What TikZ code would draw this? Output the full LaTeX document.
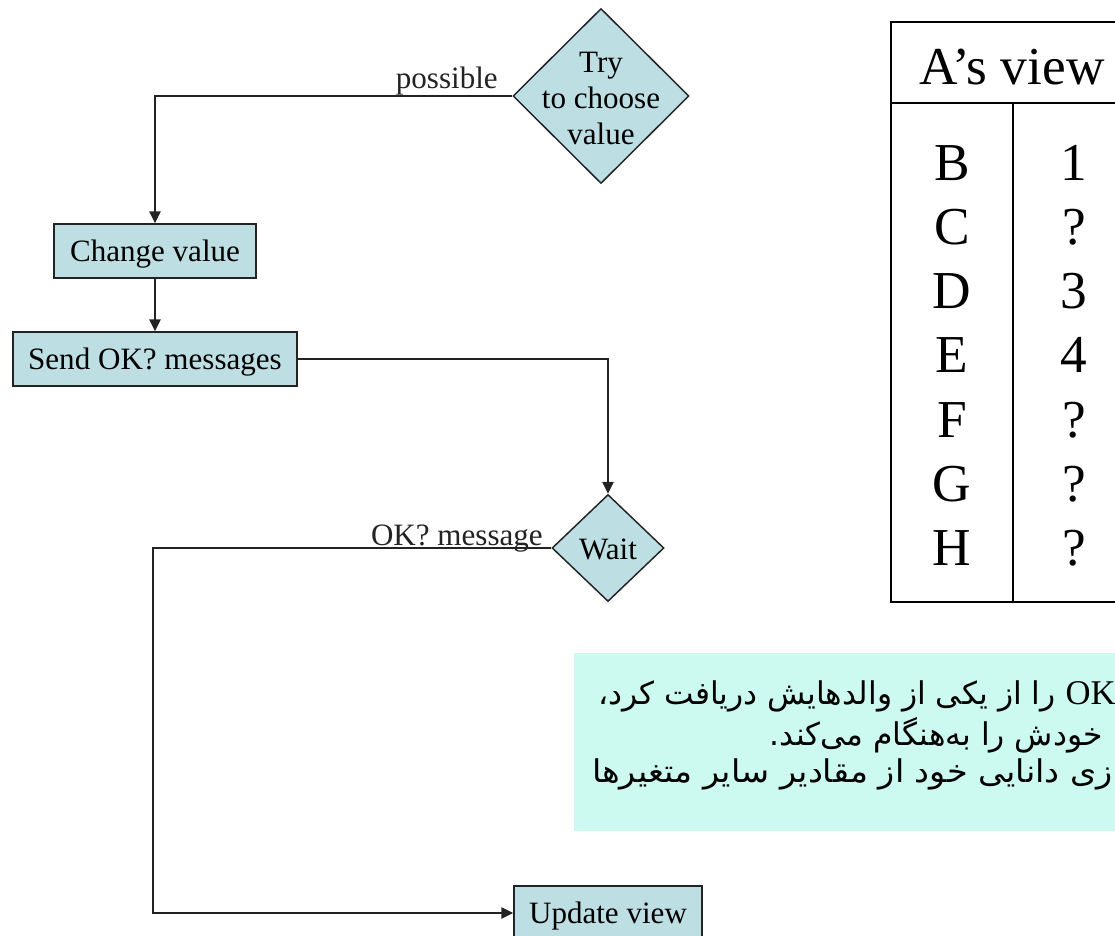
\documentclass[tikz,border=0pt]{standalone}
\usepackage{fontspec}
\setmainfont{Liberation Serif}
\newfontfamily\arabicfont[Script=Arabic]{DejaVu Sans}
\TeXXeTstate=1
\usetikzlibrary{shapes.geometric,arrows.meta}
\definecolor{boxfill}{RGB}{189,223,227}
\definecolor{notefill}{RGB}{205,250,240}
\definecolor{ink}{RGB}{35,35,35}

\begin{document}
\begin{tikzpicture}[x=0.75pt,y=-0.75pt,
  flowtext/.style={font=\fontsize{23.3}{27}\selectfont},
  procbox/.style={draw=ink, line width=1.1pt, fill=boxfill, flowtext, inner sep=0pt, text depth=0pt, minimum height=40.5pt},
  decision/.style={diamond, draw=ink, line width=1.1pt, fill=boxfill, inner sep=0pt},
  flowline/.style={draw=ink, line width=1.1pt},
  arrowline/.style={flowline, -{Triangle[length=9pt,width=8.5pt]}},
  edgelabel/.style={flowtext, inner sep=0pt, text=ink},
  tabletext/.style={font=\fontsize{40}{48}\selectfont, inner sep=0pt, anchor=base},
  tableline/.style={draw=black, line width=1.1pt},
  persian/.style={font=\arabicfont\fontsize{23.5}{28}\selectfont, inner sep=0pt, anchor=base east}
]
\useasboundingbox (0,0) rectangle (1115,936);
\clip (0,0) rectangle (1115,936);

% flowchart nodes
\node[decision, minimum width=132pt, minimum height=131.25pt] (try) at (601,96) {};
\node[flowtext, align=center, inner sep=0pt] (trytext) at (601,98) {Try\\to choose\\value};
\node[procbox, minimum width=151.5pt] (change) at (155,251) {Change value};
\node[procbox, minimum width=213pt] (send) at (155,359) {Send OK? messages};
\node[decision, minimum width=84pt, minimum height=80.25pt] (wait) at (608,548) {};
\node[flowtext, inner sep=0pt] (waittext) at (608,549) {Wait};
\node[procbox, minimum width=141pt] (update) at (608,913) {Update view};

% connectors
\coordinate (waitturn) at (153,548);
\draw[arrowline] (try.west) -| (change.north);
\draw[arrowline] (change.south) -- (send.north);
\draw[arrowline] (send.east) -| (wait.north);
\draw[arrowline] (wait.west) -- (waitturn) |- (update.west);

% connector labels
\node[edgelabel, anchor=base east] (possible) at (498,88) {possible};
\node[edgelabel, anchor=base east] (okmsg) at (543,545) {OK? message};

% A's view table
\draw[tableline] (891,22) rectangle (1135,602);
\draw[tableline] (891,103) -- (1135,103);
\draw[tableline] (1013,103) -- (1013,602);
\node[tabletext] (header) at (1012,84) {A’s view};
\foreach \k/\v [count=\i from 0] in {B/1,C/?,D/3,E/4,F/?,G/?,H/?} {
  \node[tabletext] (key\i) at (952,180+64.33*\i) {\k};
  \node[tabletext] (val\i) at (1074,180+64.33*\i) {\v};
}

% note
\fill[notefill] (574,653) rectangle (1135,831);
\node[persian] (note1) at (1116,704) {\beginR\beginL{\rmfamily\fontsize{26}{30}\selectfont OK}\endL{} را از یکی از والدهایش دریافت کرد،\endR};
\node[persian] (note2) at (1103,745) {\beginR خودش را به^^^^200cهنگام می^^^^200cکند.\endR};
\node[persian] (note3) at (1113,782) {\scalebox{1.07}[1]{\beginR زی دانایی خود از مقادیر سایر متغیرها\endR}};
\end{tikzpicture}
\end{document}
